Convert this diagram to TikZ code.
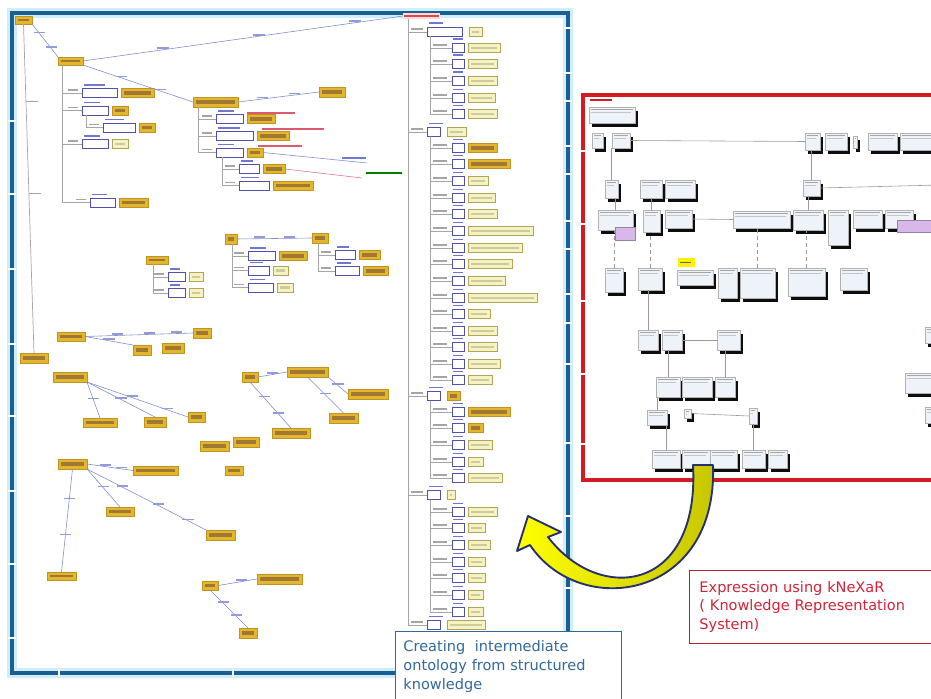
\documentclass[tikz,border=0pt]{standalone}
\usepackage{fontspec}
\setmainfont{DejaVu Sans}
\usetikzlibrary{calc,shadows}

\definecolor{frameblue}{RGB}{27,94,145}
\definecolor{glowblue}{RGB}{205,238,250}
\definecolor{framered}{RGB}{210,28,34}
\definecolor{goldfill}{RGB}{228,182,46}
\definecolor{golddraw}{RGB}{190,148,36}
\definecolor{goldtxt}{RGB}{160,120,50}
\definecolor{palefill}{RGB}{245,242,196}
\definecolor{paledraw}{RGB}{176,166,90}
\definecolor{wbdraw}{RGB}{80,80,175}
\definecolor{treegrey}{RGB}{165,165,165}
\definecolor{linkblue}{RGB}{130,140,200}
\definecolor{lblblue}{RGB}{110,120,210}
\definecolor{lblred}{RGB}{220,90,110}
\definecolor{kfill}{RGB}{238,243,250}
\definecolor{kpurple}{RGB}{216,184,232}
\definecolor{captionblue}{RGB}{50,104,156}
\definecolor{captionred}{RGB}{212,36,56}
\definecolor{arrowline}{RGB}{38,48,108}

\tikzset{
  box/.style={rectangle,inner sep=0pt,outer sep=0pt},
  gold/.style={box,fill=goldfill,draw=golddraw,line width=.5pt,
    path picture={\fill[goldtxt]
      ($(path picture bounding box.south west)+(2.6pt,2.5pt)$) rectangle
      ($(path picture bounding box.north east)+(-2.6pt,-2.5pt)$);}},
  pale/.style={box,fill=palefill,draw=paledraw,line width=.5pt,
    path picture={\fill[paledraw!60]
      ($(path picture bounding box.south west)+(2.6pt,2.7pt)$) rectangle
      ($(path picture bounding box.north east)+(-2.6pt,-2.7pt)$);}},
  redtag/.style={box,fill=red!15,
    path picture={\fill[framered!80]
      ($(path picture bounding box.south west)+(1pt,1.3pt)$) rectangle
      ($(path picture bounding box.north east)+(-1pt,-1.3pt)$);}},
  wbox/.style={box,fill=white,draw=wbdraw,line width=.6pt},
  kbox/.style={box,fill=kfill,draw=gray!60,line width=.4pt,
    drop shadow={shadow xshift=2.2pt,shadow yshift=-3.2pt,fill=black,opacity=.95},
    path picture={\fill[gray!70]
      ($(path picture bounding box.north west)+(1.5pt,-1.6pt)$) rectangle
      ($(path picture bounding box.north east)+(-1.5pt,-2.6pt)$);
      \fill[gray!45]
      ($(path picture bounding box.north west)+(1.5pt,-4pt)$) rectangle
      ($(path picture bounding box.north east)+(-3pt,-4.9pt)$);}},
  kpur/.style={box,fill=kpurple,draw=kpurple!70!black,line width=.3pt},
  khl/.style={box,fill=yellow,
    path picture={\fill[black!60]
      ($(path picture bounding box.west)+(2pt,-.6pt)$) rectangle
      ($(path picture bounding box.east)+(-3pt,.6pt)$);}},
  tree/.style={draw=treegrey,line width=.6pt},
  link/.style={draw=linkblue,line width=.5pt},
  kline/.style={draw=gray!80,line width=.5pt},
  kdash/.style={kline,dashed},
  tag/.style={rectangle,inner sep=0pt,fill=lblblue!75,minimum width=3.4mm,
    minimum height=.5mm,yshift=1.3pt},
  capbox/.style={rectangle,fill=white,line width=.8pt,align=left,
    anchor=north west,inner ysep=0pt,font=\fontsize{12.4}{16.2}\selectfont},
}

\newcommand\boxat[6][gold]{%
  \node[#1,minimum width={((#5)-(#3))*0.3mm},minimum height={((#6)-(#4))*0.3mm}]
    (#2) at ({((#3)+(#5))/2},{((#4)+(#6))/2}) {};}
\newcommand\tagbar[4][lblblue]{\fill[#1] (#2,#3) rectangle ++({#4},1.8);}
\newcommand\leaf[7][gold]{%
  \boxat[wbox]{w#2}{#5}{#4-4.5}{#6}{#4+4.5}
  \boxat[#1]{#2}{#6+4}{#4-4.5}{#7}{#4+4.5}
  \draw[tree] (#3) |- (w#2.west);
  \tagbar[treegrey]{#5-14}{#4-4}{10}
  \tagbar{#5+2}{#4-9}{((#6)-(#5))*.6}}
\newcommand\subrows[2]{%
  \coordinate (rs#1) at ([xshift=0.9mm]rh#1.south west);
  \foreach \y/\b/\s [count=\i] in {#2}{%
    \boxat[wbox]{ra#1x\i}{452}{\y-4.5}{464}{\y+4.5}
    \boxat[\s]{rb#1x\i}{468}{\y-4.5}{\b}{\y+4.5}
    \draw[tree] (rs#1) |- (ra#1x\i.west);
    \tagbar[treegrey]{433}{\y-4}{14}
    \tagbar{453}{\y-9.5}{10}}}

\begin{document}
\begin{tikzpicture}[x=0.3mm,y=-0.3mm]
  \useasboundingbox (0,0) rectangle (931,698);
  \clip (0,0) rectangle (931,698);

  % frames of the two screens
  \draw[glowblue,line width=9pt] (12,13) rectangle (568,673);
  \draw[frameblue,line width=4.2pt] (12,13) rectangle (568,673);
  \foreach \y in {120,193,268,343,415,490,563,637}
    \fill[white] (8,\y) rectangle (16,\y+1.6);
  \foreach \y in {27,72,100,145,173,220,248,293,322,363,442,515,587}
    \fill[white] (564,\y) rectangle (572,\y+1.6);
  \foreach \x in {58,232}
    \fill[white] (\x,669) rectangle (\x+1.6,677);
  \draw[framered,line width=4.2pt] (583,95) rectangle (950,480);
  \foreach \y in {150,223,300,373,443}
    \fill[white] (579,\y) rectangle (587,\y+1.6);

  % intermediate ontology (left screen)
  \boxat{g0}{15}{16}{32}{24}
  \boxat{gA}{58}{57}{83}{65}
  \boxat{gS}{20}{353}{48}{363}
  \boxat[redtag]{rt}{403}{13}{440}{19}
  \draw[tree] (g0.south) -- node[tag,fill=treegrey,anchor=west,pos=.24](ta1){}
    node[tag,fill=treegrey,anchor=west,pos=.52](ta2){} (gS.north);
  \draw[link] (g0.south east) -- node[tag,pos=.3](ta3){} node[tag,pos=.75](ta4){} (gA.north west);
  \draw[link] (gA.east) -- node[tag,pos=.25](ta5){} node[tag,pos=.55](ta6){}
    node[tag,pos=.85](ta7){} (rt.west);

  \coordinate (tA) at ([xshift=1.2mm]gA.south west);
  \leaf{g1}{tA}{93}{82}{117}{154}
  \leaf{g2}{tA}{110.5}{82}{108}{128}
  \coordinate (tA2) at ([xshift=1.2mm]wg2.south west);
  \leaf{g3}{tA2}{127.5}{103}{135}{155}
  \leaf[pale]{p4}{tA}{144}{82}{108}{128}
  \leaf{g5}{tA}{202.5}{90}{115}{148}

  \boxat{gB}{193}{97}{238}{107}
  \boxat{gC}{319}{87}{345}{97}
  \draw[link] (gA.south east) -- node[tag,pos=.35](tb1){} node[tag,pos=.7](tb2){} (gB.west);
  \draw[link] (gB.east) -- node[tag,pos=.3](tb3){} node[tag,pos=.7](tb4){} (gC.west);
  \coordinate (tB) at ([xshift=1.5mm]gB.south west);
  \leaf{g6}{tB}{119}{216}{243}{275}
  \leaf{g7}{tB}{136}{216}{253}{289}
  \leaf{g8}{tB}{152.5}{216}{243}{263}
  \coordinate (tB2) at ([xshift=1.8mm]wg8.south west);
  \leaf{g9}{tB2}{169}{239}{259}{285}
  \leaf{g10}{tB2}{185.5}{239}{269}{313}
  \tagbar[lblred]{247}{112}{48}
  \tagbar[lblred]{262}{128}{62}
  \tagbar[lblred]{258}{145}{44}
  \coordinate (eB) at (367,163);
  \coordinate (eR) at (362,178);
  \draw[link] (g8.east) -- (eB);
  \draw[lblred] (g9.east) -- (eR);
  \tagbar{342}{157}{24}
  \tagbar[green!50!black]{366}{172}{36}

  \boxat{gD}{225}{234}{237}{244}
  \boxat{gE}{312}{233}{328}{243}
  \draw[link] (gD.east) -- node[tag,pos=.3](td1){} node[tag,pos=.7](td2){} (gE.west);
  \coordinate (tD) at ([xshift=2.1mm]gD.south west);
  \leaf{g11}{tD}{256}{248}{275}{307}
  \leaf[pale]{p12}{tD}{270.5}{248}{269}{288}
  \leaf[pale]{p13}{tD}{287.5}{248}{273}{293}
  \coordinate (tE) at ([xshift=1.8mm]gE.south west);
  \leaf{g14}{tE}{255}{335}{355}{380}
  \leaf{g15}{tE}{271}{335}{359}{388}
  \boxat{gF}{146}{256}{168}{264}
  \coordinate (tF) at ([xshift=2.1mm]gF.south west);
  \leaf[pale]{p16}{tF}{277}{168}{185}{203}
  \leaf[pale]{p17}{tF}{293}{168}{185}{203}

  \boxat{gG}{57}{332}{85}{341}
  \boxat{gH}{193}{328}{211}{338}
  \boxat{gI}{133}{345}{151}{355}
  \boxat{gJ}{162}{343}{184}{353}
  \draw[link] (gG.east) -- node[tag,pos=.3](tg1){} node[tag,pos=.6](tg2){}
    node[tag,pos=.85](tg3){} (gH.west);
  \draw[link] (gG.east) -- node[tag,pos=.5](tg4){} (gI.north west);

  \boxat{gK}{53}{372}{87}{382}
  \boxat{gL}{83}{418}{117}{427}
  \boxat{gM}{144}{417}{166}{427}
  \boxat{gN}{188}{412}{205}{422}
  \draw[link] (gK.south east) -- node[tag,pos=.5](tk1){} (gL.north);
  \draw[link] (gK.south east) -- node[tag,pos=.5](tk2){} (gM.north);
  \draw[link] (gK.south east) -- node[tag,pos=.45](tk3){} node[tag,pos=.8](tk4){} (gN.west);

  \boxat{gO}{242}{372}{258}{382}
  \boxat{gP}{287}{367}{328}{377}
  \boxat{gQ}{272}{428}{310}{438}
  \boxat{gR}{348}{389}{388}{399}
  \boxat{gT}{329}{413}{358}{423}
  \draw[link] (gO.east) -- node[tag,pos=.5](to1){} (gP.west);
  \draw[link] (gO.south) -- node[tag,pos=.35](to2){} node[tag,pos=.7](to3){} (gQ.north);
  \draw[link] (gP.south east) -- node[tag,pos=.5](to4){} (gR.west);
  \draw[link] (gP.south) -- node[tag,pos=.5](to5){} (gT.north);
  \boxat{gU}{200}{441}{229}{451}
  \boxat{gV}{233}{437}{259}{447}

  \boxat{gW}{58}{459}{87}{469}
  \boxat{gX}{133}{466}{178}{475}
  \boxat{gY}{225}{466}{243}{475}
  \boxat{gZ}{47}{572}{76}{580}
  \boxat{gAa}{106}{507}{134}{516}
  \boxat{gAb}{206}{530}{235}{540}
  \draw[link] (gW.east) -- node[tag,pos=.4](tw1){} node[tag,pos=.75](tw2){} (gX.west);
  \draw[link] (gW.south) -- node[tag,pos=.3](tw3){} node[tag,pos=.65](tw4){} (gZ.north);
  \draw[link] (gW.south east) -- node[tag,pos=.5](tw5){} (gAa.north);
  \draw[link] (gW.south east) -- node[tag,pos=.3](tw6){} node[tag,pos=.6](tw7){}
    node[tag,pos=.85](tw8){} (gAb.north west);
  \boxat{gBa}{202}{581}{218}{590}
  \boxat{gBb}{257}{574}{302}{584}
  \boxat{gBc}{239}{628}{257}{638}
  \draw[link] (gBa.east) -- node[tag,pos=.6](tz1){} (gBb.west);
  \draw[link] (gBa.south) -- node[tag,pos=.35](tz2){} node[tag,pos=.7](tz3){} (gBc.north);

  % structured list on the right of the left screen
  \coordinate (rT) at ([xshift=1.5mm]rt.south west);
  \foreach \n/\y/\a/\b/\s in {1/32/462/482/pale,2/132/440/466/pale,
      3/396/440/460/gold,4/495/440/455/pale,5/625/440/485/pale}{
    \boxat[wbox]{rh\n}{427}{\y-4.5}{\a}{\y+4.5}
    \boxat[\s]{rq\n}{\a+7}{\y-4.5}{\b}{\y+4.5}
    \draw[tree] (rT) |- (rh\n.west);
    \tagbar[treegrey]{411}{\y-4}{12}
    \tagbar{429}{\y-9.5}{14}}
  \subrows{1}{48/500/pale,64/497/pale,81/497/pale,98/495/pale,114/497/pale}
  \subrows{2}{148/497/gold,164/510/gold,181/488/pale,198/495/pale,214/497/pale,
    231/533/pale,248/522/pale,264/512/pale,281/505/pale,298/537/pale,
    314/490/pale,331/497/pale,347/497/pale,364/500/pale,380/492/pale}
  \subrows{3}{412/510/gold,428/483/gold,445/492/pale,462/483/pale,478/502/pale}
  \subrows{4}{512/497/pale,528/485/pale,545/490/pale,562/485/pale,578/485/pale,
    595/483/pale,612/483/pale}

  % kNeXaR screen (right)
  \tagbar[framered]{590}{99}{22}
  \foreach \n/\a/\b/\c/\d in {0/589/107/635/123,1/592/133/603/148,2/612/133/630/148,
      3/805/133/820/150,4/825/133/847/150,5/853/136/857/148,6/868/133/897/150,
      7/900/133/940/150,8/605/180/618/198,9/640/180/662/198,10/665/180/695/198,
      11/803/180/820/196,12/598/210/633/230,13/643/210/660/232,14/665/210/692/228,
      15/733/211/790/228,16/793/210/823/230,17/828/210/848/245,18/853/210/882/228,
      19/885/210/913/228,20/605/268/623/292,21/638/268/662/290,22/677/270/713/285,
      23/718/268/737/298,24/740/268/775/298,25/788/268/825/296,26/840/268/867/290,
      27/638/330/658/350,28/662/330/682/350,29/717/330/740/350,30/656/377/680/397,
      31/682/377/712/397,32/715/377/735/397,33/647/410/667/425,34/684/409/691/418,
      35/749/408/757/424,36/652/450/680/468,37/682/450/710/468,38/710/450/737/468,
      39/742/450/765/468,40/768/450/787/468,41/925/327/940/343,42/905/373/940/393,
      43/925/407/940/423}
    \boxat[kbox]{k\n}{\a}{\b}{\c}{\d}
  \boxat[kpur]{kp1}{615}{227}{635}{240}
  \boxat[kpur]{kp2}{897}{220}{940}{232}
  \boxat[khl]{kh}{678}{258}{695}{267}
  \coordinate (kR) at (940,185);
  \draw[kline] (k2.east) -- (k3.west);
  \draw[kline] (k8.north) -- (k8.north |- k2.south);
  \draw[kline] (k11.north) -- (k11.north |- k3.south);
  \draw[kline] (k11.east) -- (kR);
  \draw[kline] (k12.north) -- (k12.north |- k8.south);
  \draw[kline] (k13.north) -- (k13.north |- k9.south);
  \draw[kline] (k16.north) -- (k16.north |- k11.south);
  \draw[kline] (k14.east) -- (k15.west);
  \draw[kdash] (k20.north) -- (k20.north |- k12.south);
  \draw[kdash] (k21.north) -- (k21.north |- k13.south);
  \draw[kdash] (k24.north) -- (k24.north |- k15.south);
  \draw[kdash] (k25.north) -- (k25.north |- k16.south);
  \draw[kline] (k27.north) -- (k27.north |- k21.south);
  \draw[kline] (k28.east) -- (k29.west);
  \draw[kline] (k30.north) -- (k30.north |- k28.south);
  \draw[kline] (k32.north) -- (k32.north |- k29.south);
  \draw[kline] (k33.north) -- (k33.north |- k30.south);
  \draw[kline] (k34.east) -- (k35.west);
  \draw[kline] (k36.north) -- (k36.north |- k33.south);
  \draw[kline] (k39.north) -- (k39.north |- k35.south);

  % curved arrow from kNeXaR back to the ontology
  \path[draw=arrowline,line width=1.6pt,line join=round,
      left color=yellow,middle color=yellow,right color=yellow!55!olive]
    (693,465) .. controls (700,592) and (600,605) .. (548,537) -- (561,532)
    -- (528,516) -- (517,551) -- (530,545)
    .. controls (580,620) and (718,600) .. (713,465) -- cycle;

  % captions
  \node[capbox,draw=captionblue,text=captionblue,inner xsep=2.4mm,
      text width=63mm,minimum width=67.8mm,minimum height=21mm]
    (capL) at (395,631) {Creating~ intermediate\\ontology from structured\\knowledge};
  \node[capbox,draw=captionred!85!black,text=captionred,inner xsep=3mm,
      text width=70.8mm,minimum width=76.8mm,minimum height=21.9mm]
    (capR) at (689,570) {Expression using kNeXaR\\( Knowledge Representation\\System)};
\end{tikzpicture}
\end{document}
